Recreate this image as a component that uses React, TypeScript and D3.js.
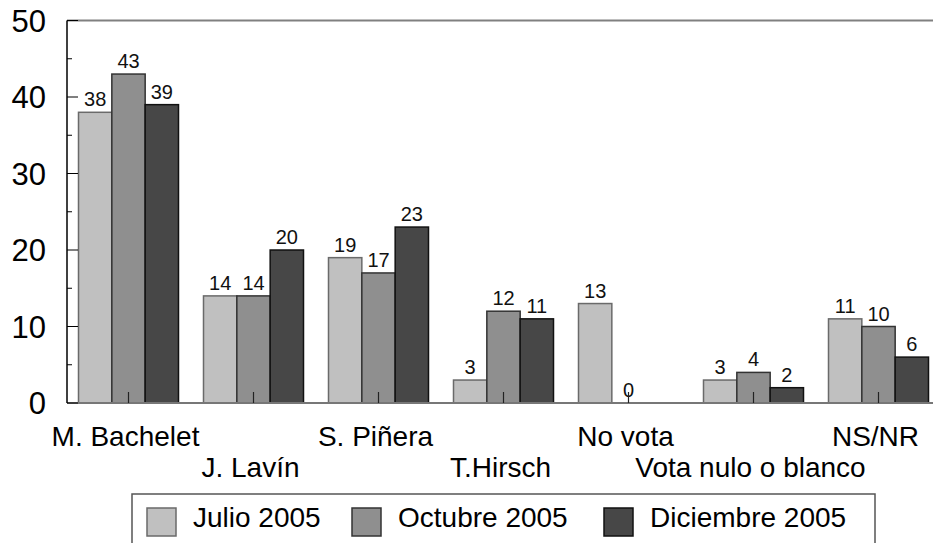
import * as d3 from 'd3';
import { useRef, useEffect } from 'react';

const categories = ['M. Bachelet', 'J. Lavín', 'S. Piñera', 'T.Hirsch', 'No vota', 'Vota nulo o blanco', 'NS/NR'];
const seriesNames = ['Julio 2005', 'Octubre 2005', 'Diciembre 2005'];
const julio = [38, 14, 19, 3, 13, 3, 11];
const octubre = [43, 14, 17, 12, 0, 4, 10];
const diciembre = [39, 20, 23, 11, null, 2, 6];
const yTicks = [0, 10, 20, 30, 40, 50];

const fills = ['#c0c0c0', '#8f8f8f', '#474747'];
const strokes = ['#6a6a6a', '#333333', '#111111'];
const FONT = "'Liberation Sans', Arial, sans-serif";

const App = () => {
  const svgRef = useRef(null);

  useEffect(() => {
    document.body.style.margin = '0';
    drawChart();
  }, []);

  const drawChart = () => {
    const width = 933;
    const height = 543;
    const svg = d3.select(svgRef.current).attr('width', width).attr('height', height);
    svg.selectAll('*').remove();

    const series = [julio, octubre, diciembre];

    const x0 = d3.scaleBand().domain(categories).range([66, 941]).paddingInner(0.2).paddingOuter(0.1);
    const x1 = d3.scaleBand().domain(seriesNames).range([0, x0.bandwidth()]);
    const y = d3.scaleLinear().domain([0, 50]).range([403, 20.5]);

    // top frame line
    svg.append('line').attr('x1', 67).attr('x2', width).attr('y1', y(50)).attr('y2', y(50))
      .attr('stroke', '#808080').attr('stroke-width', 2);

    // bars + value labels
    series.forEach((vals, si) => {
      const g = svg.append('g');
      vals.forEach((v, ci) => {
        if (v === null) return;
        const bx = x0(categories[ci]) + x1(seriesNames[si]);
        if (v > 0) {
          g.append('rect')
            .attr('x', bx)
            .attr('y', y(v))
            .attr('width', x1.bandwidth())
            .attr('height', y(0) - y(v))
            .attr('fill', fills[si])
            .attr('stroke', strokes[si])
            .attr('stroke-width', 1.5);
        }
        g.append('text')
          .attr('x', bx + x1.bandwidth() / 2)
          .attr('y', y(v) - 6)
          .attr('text-anchor', 'middle')
          .attr('font-family', FONT)
          .attr('font-size', 20)
          .attr('fill', '#111')
          .text(v);
      });
    });

    svg.append('line').attr('x1', 67).attr('x2', width).attr('y1', y(0)).attr('y2', y(0))
      .attr('stroke', '#777').attr('stroke-width', 2);

    // category ticks
    svg.append('g').selectAll('line').data(categories).join('line')
      .attr('x1', (d) => x0(d) + x0.bandwidth() / 2)
      .attr('x2', (d) => x0(d) + x0.bandwidth() / 2)
      .attr('y1', y(0))
      .attr('y2', y(0) - 11)
      .attr('stroke', '#222')
      .attr('stroke-width', 1.2);

    // y axis
    svg.append('line').attr('x1', 67).attr('x2', 67).attr('y1', y(50)).attr('y2', y(0))
      .attr('stroke', '#000').attr('stroke-width', 1.5);
    const minor = d3.range(5, 50, 10);
    svg.append('g').selectAll('line').data(yTicks).join('line')
      .attr('x1', 67).attr('x2', 78).attr('y1', (d) => y(d)).attr('y2', (d) => y(d))
      .attr('stroke', '#000').attr('stroke-width', 1);
    svg.append('g').selectAll('line').data(minor).join('line')
      .attr('x1', 67).attr('x2', 72).attr('y1', (d) => y(d)).attr('y2', (d) => y(d))
      .attr('stroke', '#000').attr('stroke-width', 1);
    svg.append('g').selectAll('text').data(yTicks).join('text')
      .attr('x', 46)
      .attr('y', (d) => y(d))
      .attr('dy', '0.36em')
      .attr('text-anchor', 'end')
      .attr('font-family', FONT)
      .attr('font-size', 31)
      .attr('fill', '#000')
      .text((d) => d);

    // category labels, staggered in two rows
    svg.append('g').selectAll('text').data(categories).join('text')
      .attr('x', (d) => x0(d) + x0.bandwidth() / 2 - 3)
      .attr('y', (d, i) => (i % 2 === 0 ? 446 : 477))
      .attr('text-anchor', 'middle')
      .attr('font-family', FONT)
      .attr('font-size', 28)
      .attr('fill', '#000')
      .text((d) => d);

    // legend
    const legend = svg.append('g');
    legend.append('rect').attr('x', 132).attr('y', 494).attr('width', 743).attr('height', 70)
      .attr('fill', 'none').attr('stroke', '#555').attr('stroke-width', 1.5);
    const legendX = [147, 352, 604];
    seriesNames.forEach((name, i) => {
      legend.append('rect').attr('x', legendX[i]).attr('y', 508).attr('width', 29).attr('height', 28)
        .attr('fill', fills[i]).attr('stroke', strokes[i]).attr('stroke-width', 1.5);
      legend.append('text').attr('x', legendX[i] + 46).attr('y', 527)
        .attr('font-family', FONT).attr('font-size', 28).attr('fill', '#000').text(name);
    });
  };

  return <svg ref={svgRef} />;
};

export default App;
